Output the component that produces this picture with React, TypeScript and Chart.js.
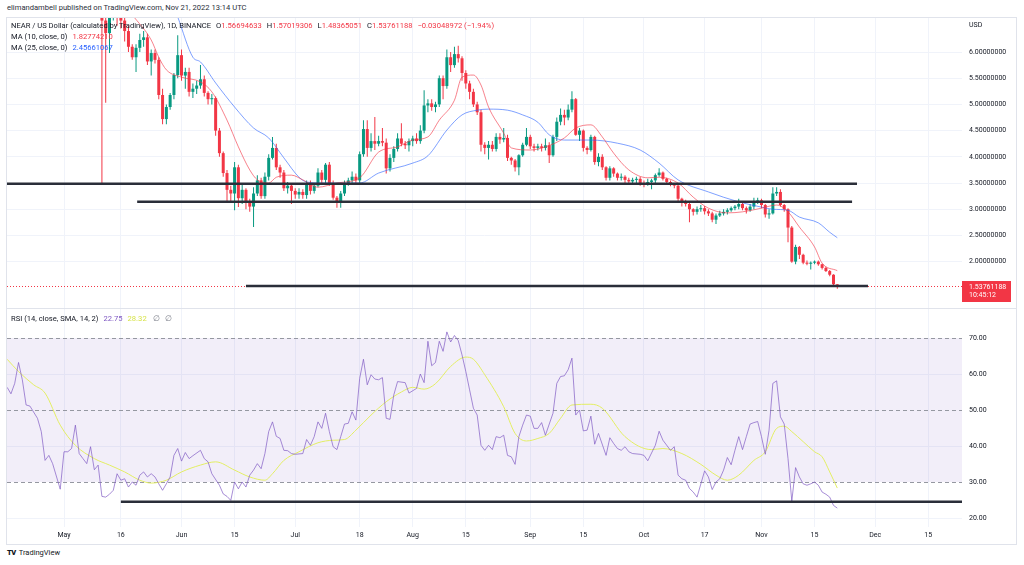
import React, { useEffect, useRef } from "react";
import { Chart, registerables } from "chart.js";

Chart.register(...registerables);

const FONT = "Roboto, 'Noto Sans', sans-serif";
const UP = "#089981";
const DOWN = "#f23645";
const GRID = "#f0f3fa";

// ---- time axis (day 0 = May 1, 2022) ----
const XMIN = -15.04;
const XMAX = 236.9;
const timeTickDays = [0, 15, 31, 45, 61, 78, 92, 106, 123, 137, 153, 169, 184, 198, 214, 228];
const timeTickLabels = ["May", "16", "Jun", "15", "Jul", "18", "Aug", "15", "Sep", "15", "Oct", "17", "Nov", "15", "Dec", "15"];

// ---- price pane ----
const PMIN = 1.115;
const PMAX = 6.649;
const priceTicks = [2, 2.5, 3, 3.5, 4, 4.5, 5, 5.5, 6];
const FIRST_DAY = 10;
const FIRST_OPEN = 7.2;
const closes = [
  6.6, 6.36, 6.8, 6.9, 6.75, 6.6, 6.4, 6.1, 5.9, 6.08,
  6.23, 6.28, 5.82, 5.98, 5.85, 5.18, 4.72, 4.95, 5.18, 5.56,
  5.94, 5.55, 5.62, 5.24, 5.3, 5.36, 5.48, 5.22, 5.1, 5.12,
  4.5, 4.07, 3.69, 3.37, 3.3, 3.8, 3.21, 3.37, 3.12, 3.05,
  3.3, 3.55, 3.25, 3.62, 3.98, 4.17, 3.8, 3.7, 3.4, 3.45,
  3.35, 3.28, 3.33, 3.27, 3.5, 3.35, 3.45, 3.7, 3.56, 3.85,
  3.5, 3.22, 3.14, 3.3, 3.5, 3.55, 3.62, 3.55, 4.05, 4.53,
  4.17, 4.3, 4.25, 4.3, 4.27, 3.78, 3.98, 4.15, 4.35, 4.25,
  4.22, 4.3, 4.35, 4.3, 4.5, 4.98, 5.02, 4.95, 5.0, 5.5,
  5.35, 5.9, 5.75, 5.96, 5.88, 5.6, 5.4, 5.24, 5.0, 4.85,
  4.23, 4.17, 4.23, 4.15, 4.38, 4.33, 4.36, 3.98, 3.93, 3.8,
  4.03, 4.23, 4.38, 4.2, 4.17, 4.2, 4.17, 4.22, 4.03, 4.38,
  4.67, 4.8, 4.75, 4.9, 5.1, 4.42, 4.5, 4.17, 4.13, 4.38,
  3.9, 4.0, 3.8, 3.6, 3.78, 3.68, 3.6, 3.62, 3.56, 3.53,
  3.56, 3.58, 3.5, 3.47, 3.52, 3.55, 3.65, 3.7, 3.58, 3.52,
  3.48, 3.45, 3.2, 3.12, 3.1, 3.0, 2.95, 3.0, 3.02, 2.96,
  2.92, 2.8, 2.88, 2.92, 2.95, 2.98, 3.02, 3.05, 3.1, 3.02,
  2.98, 3.05, 3.12, 3.17, 3.08, 2.9, 2.92, 3.3, 3.33, 3.08,
  3.0, 2.65, 2.0, 2.28, 2.13, 1.98, 1.96, 1.98, 2.0, 1.95,
  1.88, 1.82, 1.75, 1.567, 1.538,
];
const highs = [
  7.4, 6.75, 6.95, 7.1, 7.0, 6.9, 6.7, 6.5, 6.15, 6.15,
  6.35, 6.4, 6.35, 6.05, 6.05, 5.9, 5.3, 5.0, 5.22, 5.6,
  6.32, 6.05, 5.7, 5.7, 5.4, 5.45, 5.75, 5.55, 5.25, 5.2,
  5.15, 4.55, 4.1, 3.75, 3.45, 3.9, 3.85, 3.5, 3.4, 3.2,
  3.42, 3.65, 3.6, 3.7, 4.05, 4.38, 4.25, 3.85, 3.75, 3.52,
  3.5, 3.4, 3.4, 3.38, 3.55, 3.55, 3.5, 3.78, 3.75, 3.88,
  3.9, 3.55, 3.25, 3.35, 3.55, 3.6, 3.72, 3.68, 4.1, 4.7,
  4.7, 4.45, 4.76, 4.4, 4.55, 4.35, 4.05, 4.2, 4.45, 4.64,
  4.3, 4.35, 4.4, 4.45, 4.6, 5.27, 5.1, 5.1, 5.05, 5.55,
  5.55, 6.05, 6.0, 6.1, 6.12, 5.92, 5.65, 5.45, 5.3, 5.05,
  4.9, 4.28, 4.3, 4.3, 4.45, 4.45, 4.55, 4.42, 4.0, 3.96,
  4.05, 4.27, 4.55, 4.42, 4.25, 4.25, 4.25, 4.35, 4.28, 4.42,
  4.75, 4.92, 4.9, 5.0, 5.25, 5.12, 4.55, 4.52, 4.2, 4.42,
  4.4, 4.07, 4.05, 3.82, 3.82, 3.8, 3.7, 3.68, 3.65, 3.6,
  3.6, 3.62, 3.62, 3.55, 3.58, 3.58, 3.68, 3.78, 3.72, 3.6,
  3.55, 3.5, 3.48, 3.22, 3.18, 3.12, 3.02, 3.05, 3.08, 3.06,
  3.0, 2.95, 2.92, 2.97, 3.0, 3.02, 3.05, 3.08, 3.2, 3.13,
  3.05, 3.1, 3.22, 3.22, 3.2, 3.1, 3.0, 3.42, 3.42, 3.38,
  3.1, 3.02, 2.68, 2.32, 2.3, 2.15, 2.02, 2.0, 2.02, 2.02,
  1.96, 1.9, 1.84, 1.76, 1.57,
];
const lows = [
  3.5, 5.03, 5.98, 6.6, 6.5, 6.45, 6.2, 6.0, 5.85, 5.62,
  6.0, 6.1, 5.75, 5.55, 5.78, 5.1, 4.62, 4.62, 4.9, 5.1,
  5.5, 5.45, 5.3, 5.15, 5.12, 5.2, 5.3, 5.15, 5.0, 5.0,
  4.4, 4.0, 3.62, 3.14, 3.15, 2.98, 3.04, 3.1, 3.0, 2.95,
  2.66, 3.25, 3.2, 3.2, 3.55, 3.95, 3.75, 3.6, 3.35, 3.3,
  3.1, 3.2, 3.2, 3.2, 3.2, 3.28, 3.3, 3.42, 3.5, 3.5,
  3.45, 3.18, 3.03, 3.03, 3.25, 3.45, 3.5, 3.5, 3.5, 4.0,
  4.0, 4.1, 4.13, 4.2, 4.2, 3.68, 3.72, 3.9, 4.1, 4.2,
  4.15, 4.1, 4.2, 4.25, 4.25, 4.45, 4.85, 4.88, 4.85, 4.95,
  5.1, 5.3, 5.62, 5.7, 5.8, 5.45, 5.3, 5.1, 4.95, 4.8,
  4.1, 4.05, 3.95, 4.1, 4.1, 4.25, 4.28, 3.92, 3.85, 3.72,
  3.65, 4.0, 4.2, 4.15, 4.1, 4.12, 4.1, 4.12, 3.88, 4.0,
  4.3, 4.6, 4.6, 4.7, 4.85, 4.4, 4.3, 4.1, 4.05, 4.1,
  3.85, 3.82, 3.75, 3.55, 3.55, 3.62, 3.55, 3.55, 3.5, 3.48,
  3.48, 3.5, 3.45, 3.42, 3.45, 3.38, 3.5, 3.62, 3.55, 3.48,
  3.44, 3.4, 3.15, 3.05, 3.05, 2.75, 2.88, 2.9, 2.95, 2.9,
  2.87, 2.75, 2.72, 2.85, 2.88, 2.9, 2.95, 2.98, 3.0, 2.98,
  2.92, 2.95, 3.0, 3.1, 3.02, 2.84, 2.82, 2.9, 3.25, 3.05,
  2.95, 2.37, 1.98, 1.95, 2.05, 1.95, 1.93, 1.85, 1.95, 1.92,
  1.85, 1.8, 1.72, 1.55, 1.484,
];

const ma10Days = [18, 23, 25, 27, 31, 36, 39, 43, 46, 49, 51, 54, 56, 60, 63, 67, 72, 78, 83, 88, 92, 96, 99, 103, 105, 108, 110, 112, 116, 118, 123, 127, 132, 135, 139, 142, 145, 149, 154, 157, 162, 166, 170, 175, 179, 184, 188, 191, 194, 198, 200, 204];
const ma10Values = [6.71, 6.23, 5.9, 5.66, 5.52, 5.43, 5.24, 4.7, 4.19, 3.75, 3.56, 3.5, 3.61, 3.65, 3.56, 3.42, 3.5, 3.6, 4.09, 4.19, 4.32, 4.38, 4.7, 5.08, 5.52, 5.56, 5.37, 4.95, 4.45, 4.17, 4.13, 4.19, 4.36, 4.55, 4.61, 4.38, 4.07, 3.75, 3.6, 3.61, 3.5, 3.23, 3.02, 2.93, 2.95, 3.02, 3.08, 2.95, 2.66, 2.28, 1.97, 1.8277];
const ma25Days = [30, 34, 36, 40, 45, 50, 54, 58, 62, 64, 68, 73, 78, 83, 92, 96, 101, 105, 109, 112, 117, 121, 125, 128, 132, 139, 146, 152, 157, 162, 170, 178, 184, 187, 191, 194, 199, 202, 204];
const ma25Values = [6.67, 5.9, 5.81, 5.41, 4.95, 4.55, 4.36, 3.98, 3.61, 3.52, 3.5, 3.5, 3.5, 3.69, 3.88, 4.02, 4.51, 4.8, 4.89, 4.91, 4.89, 4.8, 4.66, 4.42, 4.32, 4.32, 4.26, 4.13, 3.88, 3.56, 3.33, 3.14, 3.04, 3.0, 2.98, 2.85, 2.74, 2.56, 2.4566];

// drawn horizontal lines on the price pane
const levelPrices = [3.485, 3.143, 1.534];
const levelStartDays = [-15.3, 19.3, 48];
const levelEndDays = [209.2, 207.9, 212.1];
const LAST_PRICE = 1.53761188;
const LAST_PRICE_TEXT = "1.53761188";
const COUNTDOWN_TEXT = "10:45:12";

// ---- RSI pane ----
const RMIN = 17.5;
const RMAX = 78.06;
const rsiTicks = [20, 30, 40, 50, 60, 70];
const rsiBandLevels = [30, 50, 70];
const rsiDays = [
  -15, -14, -13, -12, -11, -10, -9, -7, -6, -5, -4, -3, -1, 0, 1, 2, 3, 4, 5, 6, 7, 8, 9,
  10, 11, 12, 13, 14, 15, 16, 17, 18, 19, 20, 21, 22, 23, 24, 25, 26, 27, 28, 29,
  30, 31, 32, 33, 34, 36, 37, 38, 39, 41, 42, 43, 44, 45, 46, 47, 48, 49,
  50, 51, 52, 53, 54, 55, 56, 57, 58, 59, 60, 61, 63, 64, 65, 66, 67, 68, 69,
  70, 71, 72, 73, 74, 75, 76, 77, 78, 79, 80, 81, 82, 83, 84, 85, 86, 87, 88,
  90, 91, 93, 94, 95, 96, 97, 98, 99, 100, 101, 102, 103, 104, 105, 106, 107, 108, 109,
  110, 111, 112, 113, 114, 115, 116, 117, 118, 119, 120, 121, 122, 123, 124, 125, 126, 127, 129,
  130, 131, 132, 133, 134, 135, 136, 137, 138, 139, 140, 141, 143, 144, 145, 146, 147, 148, 149,
  150, 152, 153, 154, 156, 157, 158, 160, 161, 162, 163, 164, 165, 166, 167, 169,
  170, 171, 172, 173, 174, 175, 176, 177, 178, 179, 180, 181, 182, 183, 184, 185, 186, 187, 188, 189,
  190, 191, 192, 193, 194, 195, 196, 197, 198, 199, 200, 201, 202, 203, 204,
];
const rsiValues = [
  56.3, 54.5, 57.4, 63.2, 58.4, 51.4, 51.1, 47.7, 44, 36, 37.4, 35.1, 28, 38.4, 38.4, 39.3, 45.8, 37.9, 36.5, 35.1, 39.8, 33.4, 34.7,
  26, 25.8, 26.6, 27.7, 32.3, 30.5, 30.9, 28.6, 30, 29.1, 31.9, 32.8, 31.4, 32.3, 31.4, 29.5, 27.7, 29.5, 31.4, 37.4,
  39.3, 35.8, 38.2, 36.5, 37.3, 38.8, 36.5, 35.6, 32.3, 29.1, 26.7, 26, 24.9, 30, 28.1, 30, 28.6, 31.9,
  33.3, 35.1, 33.7, 37.9, 44, 46.7, 42.7, 42.1, 38.8, 38.7, 37.9, 37.7, 37.9, 41.8, 40.2, 42.6, 46.7, 44.9, 49.1,
  44, 39.8, 39, 42.6, 46.1, 46.3, 49.5, 47.2, 58.8, 64.1, 57, 59.8, 58.6, 58.4, 59, 47.7, 47.4, 54.2, 57.9,
  57.6, 54.7, 56, 60, 57.6, 69.1, 62.3, 63.2, 69.1, 66.3, 71.7, 68.9, 70.7, 69.3, 65.3, 60.7, 55.6, 50.5, 48.6,
  40.2, 38.8, 40.2, 39, 42.6, 42.3, 43, 37.4, 37, 34.9, 42.6, 45.8, 48.6, 48.3, 44.9, 44.9, 46.5, 43, 49.1,
  57.4, 59.3, 59.5, 61.2, 64.4, 48.6, 50, 44.2, 44.4, 48.3, 40.5, 43.5, 37.4, 42.3, 40.7, 39.3, 38.8, 39.8, 38.4,
  37.9, 37.7, 37.4, 35.9, 40.2, 44.1, 41.6, 38.8, 39.8, 31.9, 30.9, 30.5, 28.2, 27.2, 25.8, 33.1,
  31.4, 27.9, 30, 30.9, 33.3, 36.8, 34.8, 38.8, 42.6, 39, 42.6, 46.1, 46.5, 46.8, 42.6, 37.7, 44.4, 57.4, 58.1, 48.1,
  46.1, 36.5, 24.7, 34, 31.4, 29.5, 29.1, 29.5, 30, 29.1, 27.2, 26.6, 25.8, 23.5, 22.75,
];
const rsiSmaDays = [-15, -12, -8, -5, -1, 3, 8, 12, 16, 20, 23, 27, 31, 36, 40, 45, 49, 53, 55, 58, 62, 67, 71, 74, 77, 81, 85, 89, 92, 95, 98, 102, 106, 108, 111, 116, 119, 122, 125, 128, 131, 134, 139, 142, 148, 155, 158, 163, 168, 172, 175, 178, 182, 185, 188, 190, 192, 195, 198, 200, 202, 204];
const rsiSmaValues = [64.1, 60.7, 57, 54.7, 45.8, 40.2, 36.5, 34.7, 32.8, 30.5, 29.7, 30.5, 32.8, 34.7, 35.6, 33.3, 31.4, 30.5, 32.3, 36, 38.4, 40.9, 41.6, 41.8, 44.4, 48.6, 52.3, 55, 56.3, 55.8, 57.3, 62.1, 64.7, 64.1, 59.8, 50.9, 43.5, 41.4, 42.1, 43.5, 47.7, 51.4, 51.6, 50.5, 42.6, 39, 39.3, 37.9, 34.9, 31.9, 30.5, 31.9, 36, 38.4, 44.9, 45.5, 44, 41.2, 38.4, 37, 32.8, 28.32];
const rsiLevel = 24.5;
const rsiLevelStartDay = 15;
const rsiLevelEndDay = 240;

// ---- legend texts ----
const headerText = "elimandambell published on TradingView.com, Nov 21, 2022 13:14 UTC";
const symbolTitle = "NEAR / US Dollar (calculated by TradingView), 1D, BINANCE";
const ohlcLabels = ["O", "H", "L", "C"];
const ohlcValues = ["1.56694633", "1.57019306", "1.48365051", "1.53761188"];
const changeText = "\u22120.03048972 (\u22121.94%)";
const maLegendLabels = ["MA (10, close, 0)", "MA (25, close, 0)"];
const maLegendValues = ["1.82774210", "2.45661067"];
const rsiLegendLabel = "RSI (14, close, SMA, 14, 2)";
const rsiLegendValues = ["22.75", "28.32"];

const MA10_COLOR = "rgba(242,54,69,0.62)";
const MA25_COLOR = "rgba(41,98,255,0.6)";
const RSI_COLOR = "rgba(126,87,194,0.68)";
const RSI_SMA_COLOR = "#e3ee63";
const LEVEL_COLOR = "#2a2e39";

const tickFont = { size: 7, family: FONT };

function xTicks(scale: any) {
  scale.ticks = timeTickDays.map((v) => ({ value: v }));
}

const priceLinePlugin = {
  id: "priceLine",
  beforeDatasetsDraw(chart: any) {
    const { ctx, chartArea: a, scales } = chart;
    const py = Math.round(scales.y.getPixelForValue(LAST_PRICE)) + 0.5;
    ctx.save();
    ctx.strokeStyle = DOWN;
    ctx.lineWidth = 1;
    ctx.setLineDash([1, 2]);
    ctx.beginPath();
    ctx.moveTo(a.left, py);
    ctx.lineTo(a.right, py);
    ctx.stroke();
    ctx.restore();
  },
  afterDraw(chart: any) {
    const { ctx, chartArea: a, scales } = chart;
    const py = scales.y.getPixelForValue(LAST_PRICE);
    ctx.save();
    ctx.fillStyle = DOWN;
    ctx.fillRect(a.right, Math.round(py - 5), 49, 21);
    ctx.fillStyle = "#ffffff";
    ctx.font = `7px ${FONT}`;
    ctx.textBaseline = "middle";
    ctx.textAlign = "left";
    ctx.fillText(LAST_PRICE_TEXT, a.right + 7, py + 1);
    ctx.fillText(COUNTDOWN_TEXT, a.right + 7, py + 9.5);
    ctx.restore();
  },
};

const rsiBandPlugin = {
  id: "rsiBand",
  beforeDatasetsDraw(chart: any) {
    const { ctx, chartArea: a, scales } = chart;
    const y = scales.y;
    const top = y.getPixelForValue(Math.max(...rsiBandLevels));
    const bot = y.getPixelForValue(Math.min(...rsiBandLevels));
    ctx.save();
    ctx.fillStyle = "rgba(126,87,194,0.1)";
    ctx.fillRect(a.left, top, a.right - a.left, bot - top);
    ctx.strokeStyle = "#9598a1";
    ctx.lineWidth = 1;
    ctx.setLineDash([4, 3]);
    for (const lv of rsiBandLevels) {
      const py = Math.round(y.getPixelForValue(lv)) + 0.5;
      ctx.beginPath();
      ctx.moveTo(a.left, py);
      ctx.lineTo(a.right, py);
      ctx.stroke();
    }
    ctx.restore();
  },
};

export default function App() {
  const mainRef = useRef<HTMLCanvasElement | null>(null);
  const rsiRef = useRef<HTMLCanvasElement | null>(null);

  useEffect(() => {
    const days = closes.map((_, i) => FIRST_DAY + i);
    const opens = closes.map((_, i) => (i === 0 ? FIRST_OPEN : closes[i - 1]));
    const colors = closes.map((c, i) => (c >= opens[i] ? UP : DOWN));

    const levelSets = levelPrices.map((lv, i) => ({
      type: "line" as const,
      data: [
        { x: levelStartDays[i], y: lv },
        { x: levelEndDays[i], y: lv },
      ],
      borderColor: LEVEL_COLOR,
      borderWidth: 2.5,
      pointRadius: 0,
      order: -1,
    }));

    const main = new Chart(mainRef.current as HTMLCanvasElement, {
      type: "bar",
      data: {
        datasets: [
          {
            type: "line",
            data: ma10Days.map((d, i) => ({ x: d, y: ma10Values[i] })),
            borderColor: MA10_COLOR,
            borderWidth: 1,
            pointRadius: 0,
            cubicInterpolationMode: "monotone",
            order: 0,
          } as any,
          {
            type: "line",
            data: ma25Days.map((d, i) => ({ x: d, y: ma25Values[i] })),
            borderColor: MA25_COLOR,
            borderWidth: 1,
            pointRadius: 0,
            cubicInterpolationMode: "monotone",
            order: 0,
          } as any,
          ...levelSets,
          {
            type: "bar",
            data: days.map((d, i) => ({ x: d, y: [opens[i], closes[i]] })),
            backgroundColor: colors,
            barThickness: 3,
            grouped: false,
            minBarLength: 1,
            inflateAmount: 0,
            order: 1,
          } as any,
          {
            type: "bar",
            data: days.map((d, i) => ({ x: d, y: [lows[i], highs[i]] })),
            backgroundColor: colors,
            barThickness: 1,
            grouped: false,
            inflateAmount: 0,
            order: 2,
          } as any,
        ],
      },
      options: {
        animation: false,
        responsive: false,
        maintainAspectRatio: false,
        layout: { padding: 0 },
        plugins: { legend: { display: false }, tooltip: { enabled: false } },
        scales: {
          x: {
            type: "linear",
            min: XMIN,
            max: XMAX,
            offset: false,
            afterBuildTicks: xTicks,
            ticks: { display: false },
            grid: { color: GRID, drawTicks: false, offset: false },
            border: { display: false },
            afterFit: (s: any) => {
              s.height = 0;
              s.paddingLeft = 0;
              s.paddingRight = 0;
            },
          },
          y: {
            type: "linear",
            position: "right",
            min: PMIN,
            max: PMAX,
            afterBuildTicks: (s: any) => {
              s.ticks = priceTicks.map((v) => ({ value: v }));
            },
            ticks: {
              callback: (v: any) => Number(v).toFixed(8),
              font: tickFont,
              color: "#131722",
              padding: 7,
            },
            grid: { color: GRID, drawTicks: false },
            border: { display: false },
            afterFit: (s: any) => {
              s.width = 54;
              s.paddingTop = 0;
              s.paddingBottom = 0;
            },
          },
        },
      } as any,
      plugins: [priceLinePlugin],
    });

    const rsi = new Chart(rsiRef.current as HTMLCanvasElement, {
      type: "line",
      data: {
        datasets: [
          {
            data: rsiDays.map((d, i) => ({ x: d, y: rsiValues[i] })),
            borderColor: RSI_COLOR,
            borderWidth: 1,
            pointRadius: 0,
            order: 1,
          },
          {
            data: rsiSmaDays.map((d, i) => ({ x: d, y: rsiSmaValues[i] })),
            borderColor: RSI_SMA_COLOR,
            borderWidth: 1,
            pointRadius: 0,
            cubicInterpolationMode: "monotone",
            order: 2,
          },
          {
            data: [
              { x: rsiLevelStartDay, y: rsiLevel },
              { x: rsiLevelEndDay, y: rsiLevel },
            ],
            borderColor: LEVEL_COLOR,
            borderWidth: 2.5,
            pointRadius: 0,
            order: 0,
          },
        ],
      } as any,
      options: {
        animation: false,
        responsive: false,
        maintainAspectRatio: false,
        layout: { padding: 0 },
        plugins: { legend: { display: false }, tooltip: { enabled: false } },
        scales: {
          x: {
            type: "linear",
            min: XMIN,
            max: XMAX,
            offset: false,
            afterBuildTicks: xTicks,
            ticks: {
              autoSkip: false,
              maxRotation: 0,
              font: tickFont,
              color: "#131722",
              padding: 4,
              callback: (_v: any, i: number) => timeTickLabels[i],
            },
            grid: { color: GRID, drawTicks: false },
            border: { display: false },
            afterFit: (s: any) => {
              s.height = 17;
              s.paddingLeft = 0;
              s.paddingRight = 0;
            },
          },
          y: {
            type: "linear",
            position: "right",
            min: RMIN,
            max: RMAX,
            afterBuildTicks: (s: any) => {
              s.ticks = rsiTicks.map((v) => ({ value: v }));
            },
            ticks: {
              callback: (v: any) => Number(v).toFixed(2),
              font: tickFont,
              color: "#131722",
              padding: 7,
            },
            grid: {
              color: (c: any) =>
                c.tick && rsiBandLevels.includes(c.tick.value) ? "rgba(0,0,0,0)" : GRID,
              drawTicks: false,
            },
            border: { display: false },
            afterFit: (s: any) => {
              s.width = 54;
              s.paddingTop = 0;
              s.paddingBottom = 0;
            },
          },
        },
      } as any,
      plugins: [rsiBandPlugin],
    });

    return () => {
      main.destroy();
      rsi.destroy();
    };
  }, []);

  const small: React.CSSProperties = {
    position: "absolute",
    fontSize: 7.6,
    lineHeight: "10px",
    whiteSpace: "nowrap",
    color: "#131722",
  };

  return (
    <div
      style={{
        position: "fixed",
        left: 0,
        top: 0,
        width: 1024,
        height: 565,
        background: "#ffffff",
        overflow: "hidden",
        fontFamily: FONT,
      }}
    >
      <div style={{ ...small, left: 7, top: 3, fontSize: 7.6, color: "#2a2e39" }}>{headerText}</div>

      <canvas ref={mainRef} width={1009} height={290} style={{ position: "absolute", left: 7, top: 18, width: 1009, height: 290 }} />
      <div style={{ position: "absolute", left: 6, top: 308, width: 1011, height: 1, background: "#e0e3eb" }} />
      <canvas ref={rsiRef} width={1009} height={235} style={{ position: "absolute", left: 7, top: 309, width: 1009, height: 235 }} />
      <div
        style={{
          position: "absolute",
          left: 6,
          top: 17,
          width: 1011,
          height: 528,
          border: "1px solid #e0e3eb",
          boxSizing: "border-box",
          pointerEvents: "none",
        }}
      />

      <div style={{ ...small, left: 11, top: 21 }}>
        {symbolTitle}
        {ohlcLabels.map((l, i) => (
          <span key={l} style={{ marginLeft: 5 }}>
            {l}
            <span style={{ color: DOWN }}>{ohlcValues[i]}</span>
          </span>
        ))}
        <span style={{ marginLeft: 5, color: DOWN }}>{changeText}</span>
      </div>
      <div style={{ ...small, left: 11, top: 32 }}>
        {maLegendLabels[0]}
        <span style={{ marginLeft: 5, color: DOWN }}>{maLegendValues[0]}</span>
      </div>
      <div style={{ ...small, left: 11, top: 43 }}>
        {maLegendLabels[1]}
        <span style={{ marginLeft: 5, color: "#2962ff" }}>{maLegendValues[1]}</span>
      </div>
      <div style={{ ...small, fontSize: 7, left: 969, top: 20 }}>USD</div>

      <div style={{ ...small, left: 11, top: 314 }}>
        {rsiLegendLabel}
        <span style={{ marginLeft: 5, color: "#7e57c2" }}>{rsiLegendValues[0]}</span>
        <span style={{ marginLeft: 5, color: "#d7e34a" }}>{rsiLegendValues[1]}</span>
        <span style={{ marginLeft: 6, color: "#787b86" }}>{"\u2205"}</span>
        <span style={{ marginLeft: 5, color: "#787b86" }}>{"\u2205"}</span>
      </div>

      <div style={{ ...small, left: 7, top: 548, fontSize: 7.5 }}>
        <span style={{ fontWeight: 900, letterSpacing: -0.5, marginRight: 3 }}>TV</span>
        TradingView
      </div>
    </div>
  );
}
